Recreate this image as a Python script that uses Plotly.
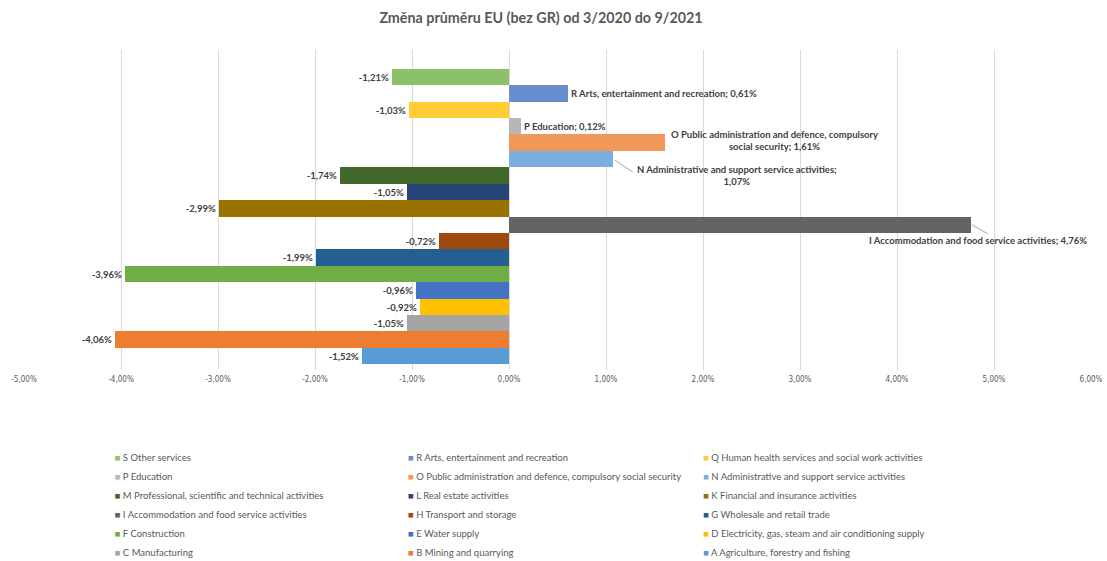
import plotly.graph_objects as go

categories = [
    "S Other services",
    "R Arts, entertainment and recreation",
    "Q Human health services and social work activities",
    "P Education",
    "O Public administration and defence, compulsory social security",
    "N Administrative and support service activities",
    "M Professional, scientific and technical activities",
    "L Real estate activities",
    "K Financial and insurance activities",
    "I Accommodation and food service activities",
    "H Transport and storage",
    "G Wholesale and retail trade",
    "F Construction",
    "E Water supply",
    "D Electricity, gas, steam and air conditioning supply",
    "C Manufacturing",
    "B Mining and quarrying",
    "A Agriculture, forestry and fishing",
]
values_pct = [-1.21, 0.61, -1.03, 0.12, 1.61, 1.07, -1.74, -1.05, -2.99,
              4.76, -0.72, -1.99, -3.96, -0.96, -0.92, -1.05, -4.06, -1.52]
colors = ["#8CC168", "#698ED0", "#FFCD33", "#B7B7B7", "#F1975A", "#7CAFDD",
          "#43682B", "#264478", "#997300", "#636363", "#9E480E", "#255E91",
          "#70AD47", "#4472C4", "#FFC000", "#A5A5A5", "#ED7D31", "#5B9BD5"]
tick_vals = [-0.05, -0.04, -0.03, -0.02, -0.01, 0.0, 0.01, 0.02, 0.03, 0.04, 0.05, 0.06]
tick_text = ["-5,00%", "-4,00%", "-3,00%", "-2,00%", "-1,00%", "0,00%",
             "1,00%", "2,00%", "3,00%", "4,00%", "5,00%", "6,00%"]

values = [v / 100 for v in values_pct]

def fmt(v):
    return ("%.2f%%" % (v * 100)).replace(".", ",")

LABEL_COLOR = "#404040"
FONT = "Lato, Carlito, Open Sans, sans-serif"
LSIZE = 9.5

special = {"O", "N", "I"}
legend_names = ["legend", "legend2", "legend3"]

fig = go.Figure()
for i, (cat, val, col) in enumerate(zip(categories, values, colors)):
    code = cat.split(" ")[0]
    if val < 0:
        txt = "<b>" + fmt(val) + "</b>"
    elif code in special:
        txt = ""
    else:
        txt = "<b>" + cat + "; " + fmt(val) + "</b>"
    fig.add_trace(go.Bar(
        y=[cat], x=[val], orientation="h", name=cat, showlegend=False,
        marker=dict(color=col, line=dict(width=0)),
        text=[txt], textposition="outside", constraintext="none",
        textfont=dict(family=FONT, size=LSIZE, color=LABEL_COLOR),
        cliponaxis=False, hoverinfo="x+name",
    ))
    # legend entry: coloured square glyph + name
    fig.add_trace(go.Scatter(
        x=[None], y=[None], mode="markers",
        marker=dict(size=1, opacity=0, color="rgba(0,0,0,0)", line=dict(width=0)),
        name="<span style='color:%s'>■</span> %s" % (col, cat),
        legend=legend_names[i % 3], showlegend=True, hoverinfo="skip",
    ))

idx = {c.split(" ")[0]: i for i, c in enumerate(categories)}

iO = idx["O"]
fig.add_annotation(
    x=values[iO], y=categories[iO], xref="x", yref="y",
    text="<b>O Public administration and defence, compulsory<br>social security; " + fmt(values[iO]) + "</b>",
    showarrow=False, xanchor="left", yanchor="middle", align="center",
    xshift=4, yshift=2, font=dict(family=FONT, size=LSIZE, color=LABEL_COLOR))

iN = idx["N"]
fig.add_annotation(
    x=values[iN], y=categories[iN], xref="x", yref="y",
    text="<b>N Administrative and support service activities;<br>" + fmt(values[iN]) + "</b>",
    showarrow=False, xanchor="left", yanchor="middle", align="center",
    xshift=22, yshift=-16, font=dict(family=FONT, size=LSIZE, color=LABEL_COLOR))
fig.add_shape(type="line", xref="x", yref="y", xsizemode="pixel", ysizemode="pixel",
              xanchor=values[iN], yanchor=iN, x0=2, x1=20, y0=-1, y1=-13,
              line=dict(color="#A6A6A6", width=1))

iI = idx["I"]
fig.add_annotation(
    x=values[iI], y=categories[iI], xref="x", yref="y",
    text="<b>I Accommodation and food service activities; " + fmt(values[iI]) + "</b>",
    showarrow=False, xanchor="right", yanchor="middle", align="right",
    xshift=118, yshift=-16, font=dict(family=FONT, size=LSIZE, color=LABEL_COLOR))
fig.add_shape(type="line", xref="x", yref="y", xsizemode="pixel", ysizemode="pixel",
              xanchor=values[iI], yanchor=iI, x0=1, x1=17, y0=0, y1=-9,
              line=dict(color="#A6A6A6", width=1))

leg_common = dict(orientation="v", yanchor="top", xanchor="left", y=-0.226,
                  bgcolor="rgba(0,0,0,0)", itemclick=False, itemdoubleclick=False,
                  font=dict(family=FONT, size=9.5, color="#595959"))

fig.update_layout(
    width=1107, height=561,
    paper_bgcolor="white", plot_bgcolor="white",
    margin=dict(l=24, r=16, t=50, b=191, autoexpand=False),
    barmode="overlay", bargap=0,
    font=dict(family=FONT, color="#595959"),
    title=dict(text="<b>Změna průměru EU (bez GR) od 3/2020 do 9/2021</b>",
               x=0.4887, xanchor="center", y=0.968, yanchor="middle",
               font=dict(family=FONT, size=14.3, color="#595959")),
    xaxis=dict(range=[-0.05, 0.06], tickvals=tick_vals, ticktext=tick_text,
               showgrid=True, gridcolor="#D9D9D9", gridwidth=1,
               zeroline=False, showline=False, ticks="", ticklabelstandoff=3,
               tickfont=dict(family="Liberation Sans Narrow, DejaVu Sans Condensed, sans-serif", size=8, color="#595959")),
    yaxis=dict(type="category", categoryorder="array", categoryarray=categories,
               range=[17.85, -1.645], showticklabels=False, showgrid=False,
               zeroline=False, showline=False, ticks=""),
    legend=dict(x=0.0475, **leg_common),
    legend2=dict(x=0.3224, **leg_common),
    legend3=dict(x=0.599, **leg_common),
)

fig.write_html("out.html",
               config={"displayModeBar": False},
               post_script="document.body.style.margin='0px';document.body.style.overflow='hidden';")
